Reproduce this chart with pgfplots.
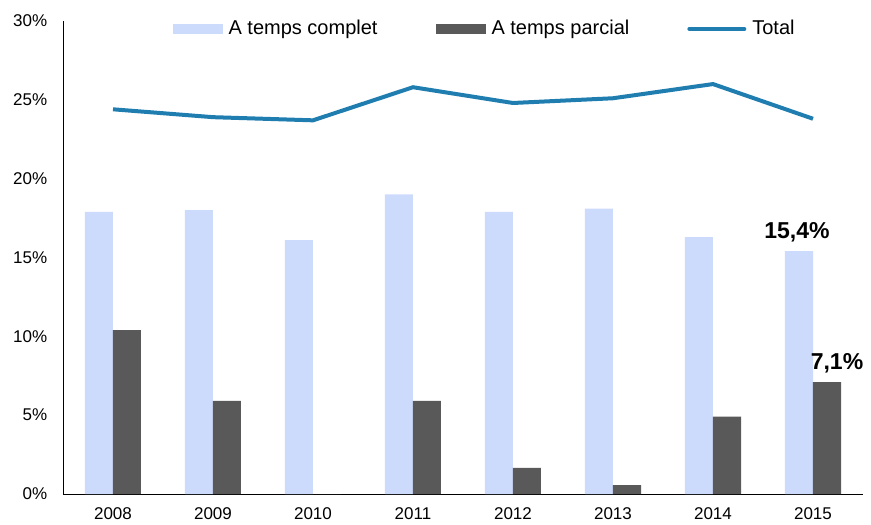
\documentclass[border=0pt]{standalone}
\usepackage{pgfplots}
\pgfplotsset{compat=1.18}
\usepackage{fontspec}
\setmainfont{Liberation Sans}
\definecolor{fullblue}{RGB}{204,218,252}
\definecolor{partgray}{RGB}{89,89,89}
\definecolor{totalblue}{RGB}{31,125,176}
\begin{document}
\fontsize{17bp}{20bp}\selectfont
\begin{tikzpicture}
\useasboundingbox (-63bp,-31bp) rectangle (808bp,494bp);
\begin{axis}[
    at={(0,0)}, anchor=south west,
    scale only axis,
    width=800bp, height=473bp,
    xmin=-0.5, xmax=7.5,
    ymin=0, ymax=30,
    xtick={0,...,7},
    xticklabels={2008,2009,2010,2011,2012,2013,2014,2015},
    ytick={0,5,...,30},
    yticklabels={0\%,5\%,10\%,15\%,20\%,25\%,30\%},
    major tick length=0pt,
    axis x line=bottom, axis y line=left,
    axis line style={-, line width=0.8bp, black},
    xticklabel style={yshift=-8bp},
    yticklabel style={xshift=-10bp},
    legend columns=3,
    legend style={draw=none, fill=none, at={(0.527,1.01)}, anchor=north,
        /tikz/every even column/.append style={column sep=56bp},
        /tikz/every odd column/.append style={column sep=4bp},
        font=\fontsize{20bp}{24bp}\selectfont},
    clip=false,
]
\addplot[ybar, bar width=28bp, bar shift=-14bp, fill=fullblue, draw=none,
    legend image code/.code={\fill[fullblue] (0bp,-5bp) rectangle (50bp,5bp);}]
    coordinates {(0,17.9) (1,18.0) (2,16.1) (3,19.0) (4,17.9) (5,18.1) (6,16.3) (7,15.4)};
\addlegendentry{A temps complet}
\addplot[ybar, bar width=28bp, bar shift=14bp, fill=partgray, draw=none,
    legend image code/.code={\fill[partgray] (0bp,-5bp) rectangle (50bp,5bp);}]
    coordinates {(0,10.4) (1,5.9) (2,0) (3,5.9) (4,1.65) (5,0.57) (6,4.9) (7,7.1)};
\addlegendentry{A temps parcial}
\addplot[sharp plot, no markers, color=totalblue, line width=4bp,
    legend image code/.code={\draw[totalblue, line width=4bp, line cap=round] (0bp,0bp) -- (55bp,0bp);}]
    coordinates {(0,24.4) (1,23.9) (2,23.7) (3,25.8) (4,24.8) (5,25.1) (6,26.0) (7,23.8)};
\addlegendentry{Total}
\node[anchor=south, font=\fontsize{23bp}{27bp}\selectfont\bfseries] at (axis cs:6.84,15.4) [yshift=3bp] {15,4\%};
\node[anchor=south, font=\fontsize{23bp}{27bp}\selectfont\bfseries] at (axis cs:7.24,7.1) [yshift=3bp] {7,1\%};
\end{axis}
\end{tikzpicture}
\end{document}
